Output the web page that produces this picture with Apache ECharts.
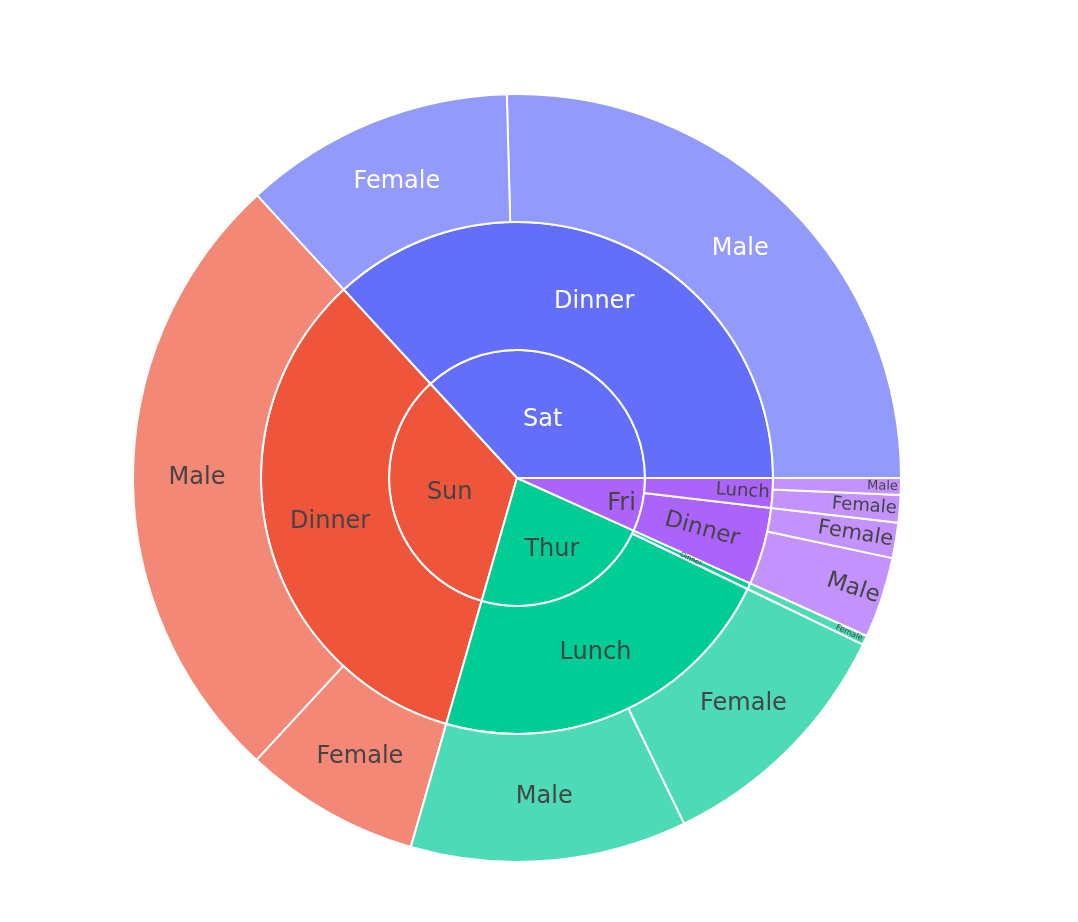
<!DOCTYPE html>
<html>
<head>
<meta charset="utf-8">
<script src="https://cdn.jsdelivr.net/npm/echarts@6/dist/echarts.min.js"></script>
<style>
  html, body { margin: 0; padding: 0; background: #fff; }
  #chart { width: 1078px; height: 922px; }
</style>
</head>
<body>
<div id="chart"></div>
<script>
// total bill by day / time / sex (tips data)
const leafDay  = ['Sat', 'Sat', 'Sun', 'Sun', 'Thur', 'Thur', 'Thur', 'Fri', 'Fri', 'Fri', 'Fri'];
const leafTime = ['Dinner', 'Dinner', 'Dinner', 'Dinner', 'Lunch', 'Lunch', 'Dinner', 'Dinner', 'Dinner', 'Lunch', 'Lunch'];
const leafSex  = ['Male', 'Female', 'Male', 'Female', 'Male', 'Female', 'Female', 'Male', 'Female', 'Female', 'Male'];
const leafBill = [1227.35, 551.05, 1269.46, 357.70, 561.44, 516.11, 18.78, 164.41, 71.55, 55.76, 34.16];

const days = ['Sat', 'Sun', 'Thur', 'Fri'];
const dayColors  = ['#636efa', '#EF553B', '#00cc96', '#ab63fa'];
const leafColors = ['#929afc', '#f48876', '#4cdbb6', '#c492fc'];

// labels on the thin Friday / Thursday-dinner slices read radially, shrunk to fit
const small = {
  'Fri/Dinner': [23, 'center'], 'Fri/Lunch': [18, 'right'],
  'Fri/Dinner/Male': [23, 'right'], 'Fri/Dinner/Female': [21, 'right'],
  'Fri/Lunch/Female': [18, 'right'], 'Fri/Lunch/Male': [13, 'right'],
  'Thur/Dinner': [7, 'center'], 'Thur/Dinner/Female': [8, 'right']
};
// inner labels nudged towards the roomiest part of their slice (via padding)
const nudge = { 'Fri': [0, 0, 0, 84], 'Thur': [2, 0, 0, 16], 'Sun': [0, 10, 0, 0] };
const dropped = { 'Fri': 1, 'Thur': 1 };

function labelFor(path, di) {
  const lbl = { color: di === 0 ? '#fff' : '#444' };
  if (small[path]) {
    lbl.rotate = 'radial';
    lbl.fontSize = small[path][0];
    lbl.align = small[path][1];
    lbl.distance = 3;
  }
  if (nudge[path]) lbl.padding = nudge[path];
  if (dropped[path]) lbl.verticalAlign = 'top';
  return lbl;
}

const tree = days.map((d, di) => {
  const node = { name: d, children: [], itemStyle: { color: dayColors[di] }, label: labelFor(d, di) };
  leafDay.forEach((ld, i) => {
    if (ld !== d) return;
    let t = node.children.find(c => c.name === leafTime[i]);
    if (!t) {
      const p = d + '/' + leafTime[i];
      t = { name: leafTime[i], children: [], itemStyle: { color: dayColors[di] }, label: labelFor(p, di) };
      node.children.push(t);
    }
    const lp = d + '/' + leafTime[i] + '/' + leafSex[i];
    t.children.push({
      name: leafSex[i],
      value: leafBill[i],
      itemStyle: { color: leafColors[di] },
      label: labelFor(lp, di)
    });
  });
  return node;
});

const chart = echarts.init(document.getElementById('chart'), null, { renderer: 'canvas' });
chart.setOption({
  animation: false,
  series: [{
    type: 'sunburst',
    center: [517, 478],
    radius: [0, 384],
    startAngle: 0,
    clockwise: false,
    sort: null,
    nodeClick: false,
    data: tree,
    emphasis: { disabled: true },
    itemStyle: { borderColor: '#fff', borderWidth: 2 },
    label: {
      rotate: 0,
      fontFamily: 'DejaVu Sans',
      fontSize: 24,
      color: '#444'
    },
    levels: [
      {},
      { r0: 0, r: 128 },
      { r0: 128, r: 256 },
      { r0: 256, r: 384 }
    ]
  }]
});
</script>
</body>
</html>
